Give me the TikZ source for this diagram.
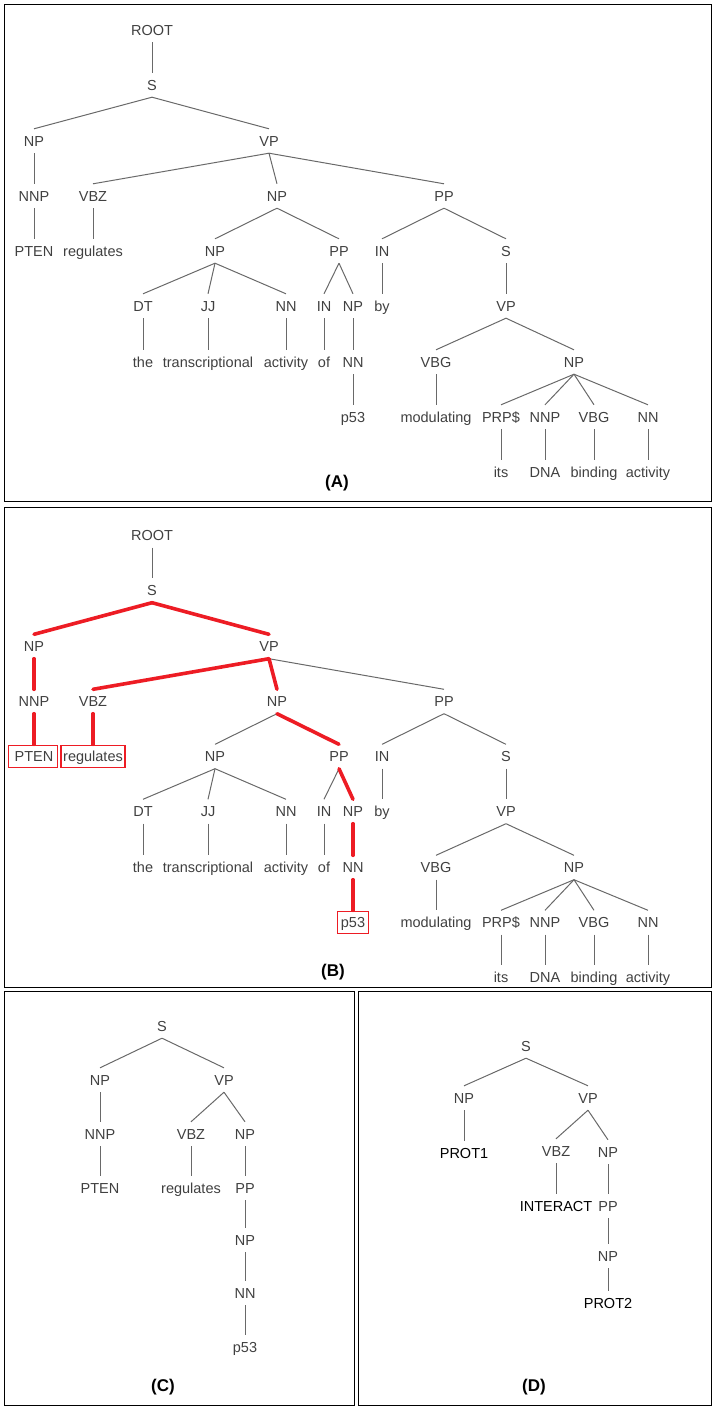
\documentclass[tikz,border=0pt]{standalone}
\usepackage{fontspec}
\setmainfont{Liberation Sans}
\usetikzlibrary{positioning}

\definecolor{labelgray}{RGB}{64,64,64}
\definecolor{linegray}{RGB}{105,105,105}
\definecolor{hlred}{RGB}{237,28,36}

\tikzset{
  tag/.style={text=labelgray, inner sep=0pt, minimum height=24pt,
    text height=10.4pt, text depth=0pt, font=\fontsize{14.5}{17}\selectfont},
  protein/.style={tag, text=black},
  panel/.style={inner sep=0pt, font=\fontsize{17}{20}\selectfont\bfseries},
  branch/.style={draw=linegray, line width=1pt},
  hl/.style={draw=hlred, line width=3.6pt, line cap=round},
  leafbox/.style={draw=hlred, line width=1.5pt},
  frame/.style={draw=black, line width=1pt}
}

\begin{document}
\begin{tikzpicture}[x=1pt,y=-1pt]
	\useasboundingbox (0,0) rectangle (715,1410);

	% panel frames
	\draw[frame] (4.5,4.5) rectangle (711.5,501.5);
	\draw[frame] (4.5,507.5) rectangle (711.5,987.5);
	\draw[frame] (4.5,991.5) rectangle (354.5,1405.5);
	\draw[frame] (358.5,991.5) rectangle (711.5,1405.5);

	% full parse tree, drawn for (A) and (B)
	\foreach \p/\dy in {a/0,b/505.5} {
	\begin{scope}[shift={(0,\dy)}]
		\node[tag] (\p-root) at (152,30) {ROOT};
		\node[tag] (\p-s) at (152,85) {S};
		\node[tag] (\p-np) at (34,141) {NP};
		\node[tag] (\p-vp) at (269,141) {VP};
		\node[tag] (\p-nnp) at (34,196) {NNP};
		\node[tag] (\p-vbz) at (93,196) {VBZ};
		\node[tag] (\p-obj) at (277,196) {NP};
		\node[tag] (\p-pp) at (444,196) {PP};
		\node[tag] (\p-pten) at (34,251) {PTEN};
		\node[tag] (\p-regulates) at (93,251) {regulates};
		\node[tag] (\p-head) at (215,251) {NP};
		\node[tag] (\p-ppof) at (339,251) {PP};
		\node[tag] (\p-inby) at (382,251) {IN};
		\node[tag] (\p-sby) at (506,251) {S};
		\node[tag] (\p-dt) at (143,306) {DT};
		\node[tag] (\p-jj) at (208,306) {JJ};
		\node[tag] (\p-nn) at (286,306) {NN};
		\node[tag] (\p-inof) at (324,306) {IN};
		\node[tag] (\p-npof) at (353,306) {NP};
		\node[tag] (\p-by) at (382,306) {by};
		\node[tag] (\p-vpby) at (506,306) {VP};
		\node[tag] (\p-the) at (143,362) {the};
		\node[tag] (\p-trans) at (208,362) {transcriptional};
		\node[tag] (\p-act) at (286,362) {activity};
		\node[tag] (\p-of) at (324,362) {of};
		\node[tag] (\p-nnof) at (353,362) {NN};
		\node[tag] (\p-vbg) at (436,362) {VBG};
		\node[tag] (\p-npdna) at (574,362) {NP};
		\node[tag] (\p-p53) at (353,417) {p53};
		\node[tag] (\p-mod) at (436,417) {modulating};
		\node[tag] (\p-prp) at (501,417) {PRP\$};
		\node[tag] (\p-nnpdna) at (545,417) {NNP};
		\node[tag] (\p-vbgbind) at (594,417) {VBG};
		\node[tag] (\p-nnact) at (648,417) {NN};
		\node[tag] (\p-its) at (501,472) {its};
		\node[tag] (\p-dna) at (545,472) {DNA};
		\node[tag] (\p-binding) at (594,472) {binding};
		\node[tag] (\p-act2) at (648,472) {activity};

		\draw[branch]
		(\p-root.south) edge (\p-s.north)
		(\p-s.south) edge (\p-np.north)
			edge (\p-vp.north)
		(\p-np.south) edge (\p-nnp.north)
		(\p-nnp.south) edge (\p-pten.north)
		(\p-vp.south) edge (\p-vbz.north)
			edge (\p-obj.north)
			edge (\p-pp.north)
		(\p-vbz.south) edge (\p-regulates.north)
		(\p-obj.south) edge (\p-head.north)
			edge (\p-ppof.north)
		(\p-pp.south) edge (\p-inby.north)
			edge (\p-sby.north)
		(\p-head.south) edge (\p-dt.north)
			edge (\p-jj.north)
			edge (\p-nn.north)
		(\p-ppof.south) edge (\p-inof.north)
			edge (\p-npof.north)
		(\p-inby.south) edge (\p-by.north)
		(\p-sby.south) edge (\p-vpby.north)
		(\p-dt.south) edge (\p-the.north)
		(\p-jj.south) edge (\p-trans.north)
		(\p-nn.south) edge (\p-act.north)
		(\p-inof.south) edge (\p-of.north)
		(\p-npof.south) edge (\p-nnof.north)
		(\p-vpby.south) edge (\p-vbg.north)
			edge (\p-npdna.north)
		(\p-nnof.south) edge (\p-p53.north)
		(\p-vbg.south) edge (\p-mod.north)
		(\p-npdna.south) edge (\p-prp.north)
			edge (\p-nnpdna.north)
			edge (\p-vbgbind.north)
			edge (\p-nnact.north)
		(\p-prp.south) edge (\p-its.north)
		(\p-nnpdna.south) edge (\p-dna.north)
		(\p-vbgbind.south) edge (\p-binding.north)
		(\p-nnact.south) edge (\p-act2.north);
	\end{scope}
	}

	% highlighted path in (B)
	\draw[hl]
	(b-s.south) edge (b-np.north)
		edge (b-vp.north)
	(b-np.south) edge (b-nnp.north)
	(b-nnp.south) edge (b-pten.north)
	(b-vp.south) edge (b-vbz.north)
		edge (b-obj.north)
	(b-vbz.south) edge (b-regulates.north)
	(b-obj.south) edge (b-ppof.north)
	(b-ppof.south) edge (b-npof.north)
	(b-npof.south) edge (b-nnof.north)
	(b-nnof.south) edge (b-p53.north);
	\draw[leafbox] ([shift={(-6,-11)}]b-pten.west) rectangle ([shift={(4,11)}]b-pten.east);
	\draw[leafbox] ([shift={(-2,-11)}]b-regulates.west) rectangle ([shift={(2,11)}]b-regulates.east);
	\draw[leafbox] ([shift={(-3,-11)}]b-p53.west) rectangle ([shift={(3,11)}]b-p53.east);

	% (C) pruned tree
	\node[tag] (c-s) at (162,1026) {S};
	\node[tag] (c-np) at (100,1080) {NP};
	\node[tag] (c-vp) at (224,1080) {VP};
	\node[tag] (c-nnp) at (100,1134) {NNP};
	\node[tag] (c-vbz) at (191,1134) {VBZ};
	\node[tag] (c-obj) at (245,1134) {NP};
	\node[tag] (c-pten) at (100,1188) {PTEN};
	\node[tag] (c-regulates) at (191,1188) {regulates};
	\node[tag] (c-pp) at (245,1188) {PP};
	\node[tag] (c-npof) at (245,1240) {NP};
	\node[tag] (c-nn) at (245,1293) {NN};
	\node[tag] (c-p53) at (245,1347) {p53};

	\draw[branch]
	(c-s.south) edge (c-np.north)
		edge (c-vp.north)
	(c-np.south) edge (c-nnp.north)
	(c-nnp.south) edge (c-pten.north)
	(c-vp.south) edge (c-vbz.north)
		edge (c-obj.north)
	(c-vbz.south) edge (c-regulates.north)
	(c-obj.south) edge (c-pp.north)
	(c-pp.south) edge (c-npof.north)
	(c-npof.south) edge (c-nn.north)
	(c-nn.south) edge (c-p53.north);

	% (D) generalised tree
	\node[tag] (d-s) at (526,1046) {S};
	\node[tag] (d-np) at (464,1098) {NP};
	\node[tag] (d-vp) at (588,1098) {VP};
	\node[protein] (d-prot1) at (464,1153) {PROT1};
	\node[tag] (d-vbz) at (556,1151) {VBZ};
	\node[tag] (d-obj) at (608,1152) {NP};
	\node[protein] (d-interact) at (556,1206) {INTERACT};
	\node[tag] (d-pp) at (608,1206) {PP};
	\node[tag] (d-npof) at (608,1256) {NP};
	\node[protein] (d-prot2) at (608,1303) {PROT2};

	\draw[branch]
	(d-s.south) edge (d-np.north)
		edge (d-vp.north)
	(d-np.south) edge (d-prot1.north)
	(d-vp.south) edge (d-vbz.north)
		edge (d-obj.north)
	(d-vbz.south) edge (d-interact.north)
	(d-obj.south) edge (d-pp.north)
	(d-pp.south) edge (d-npof.north)
	(d-npof.south) edge (d-prot2.north);

	% panel labels
	\node[panel] (lab-a) at (337,483) {(A)};
	\node[panel] (lab-b) at (333,972) {(B)};
	\node[panel] (lab-c) at (163,1387) {(C)};
	\node[panel] (lab-d) at (534,1387) {(D)};
\end{tikzpicture}
\end{document}
